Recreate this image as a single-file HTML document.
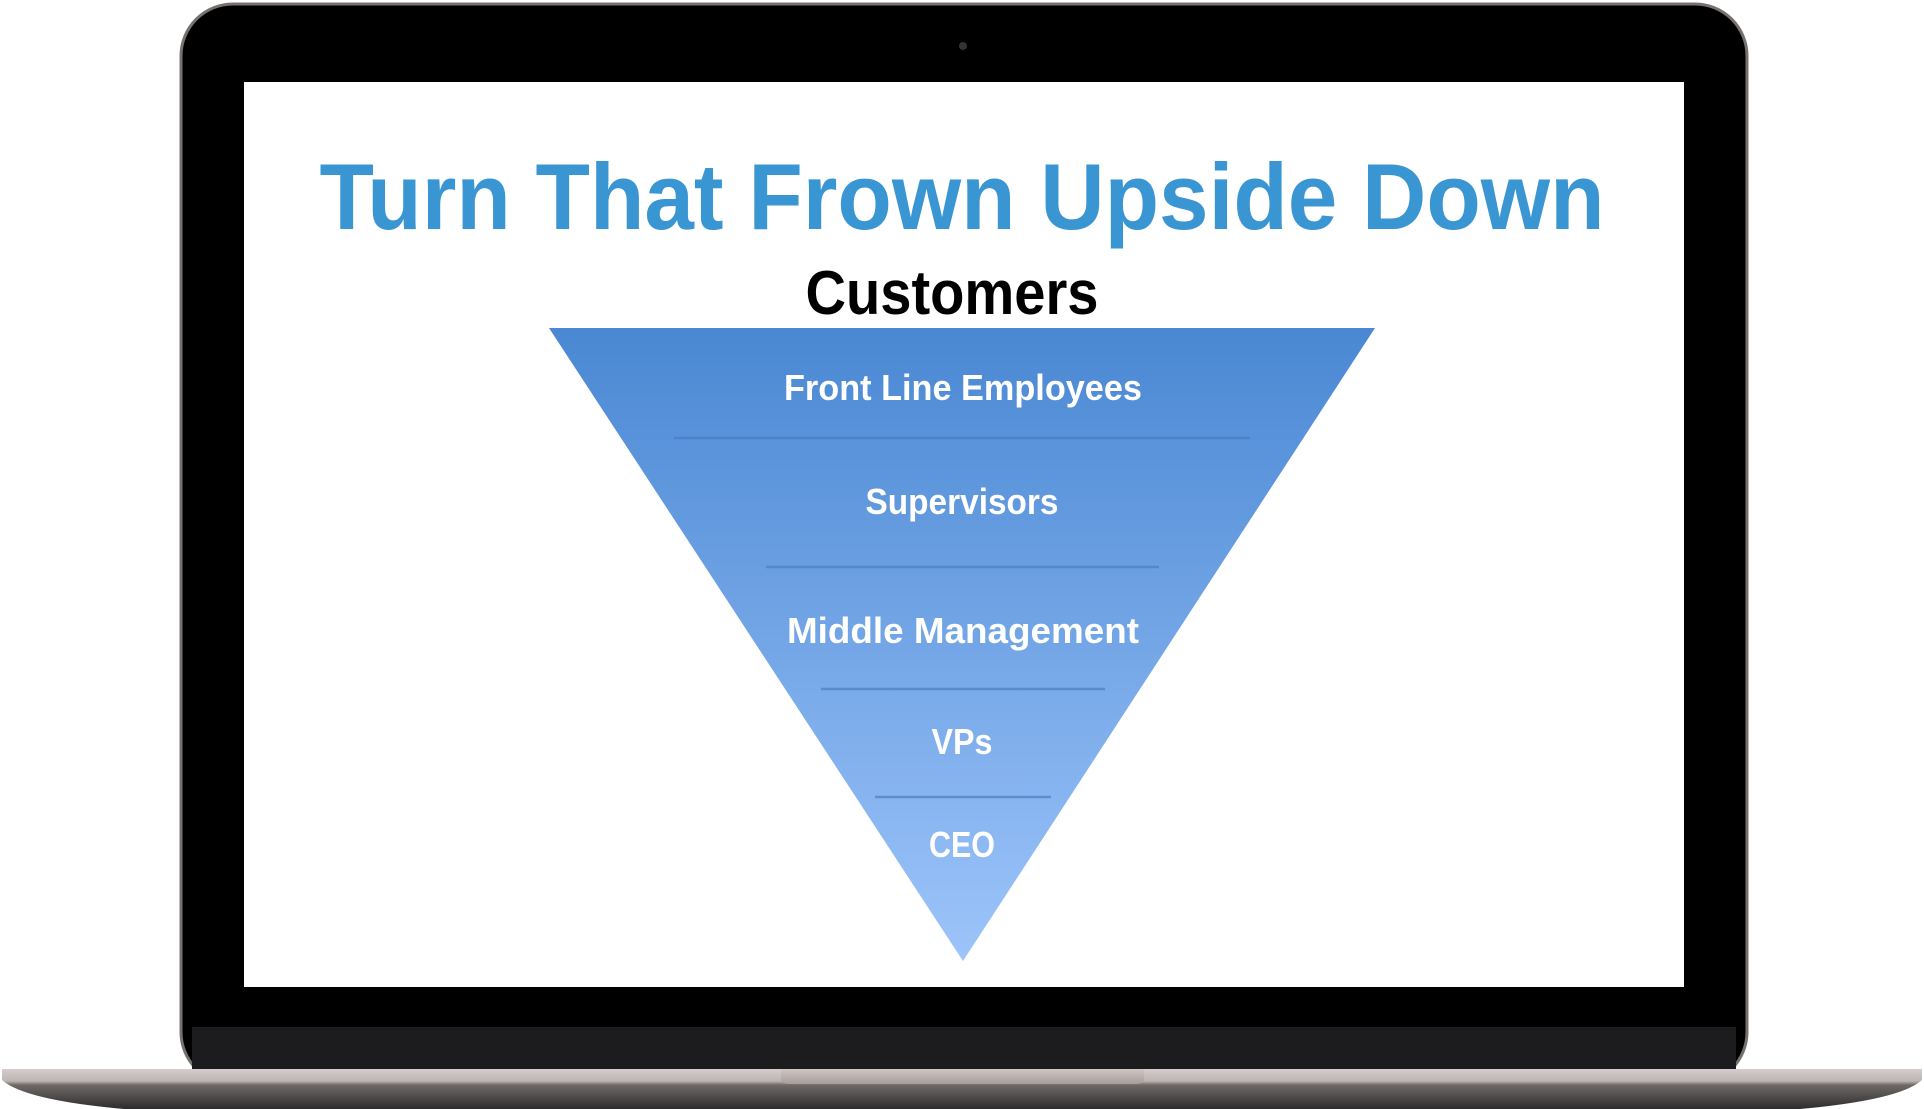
<!DOCTYPE html>
<html><head><meta charset="utf-8"><style>
html,body{margin:0;padding:0;background:#fff;width:1924px;height:1109px;overflow:hidden}
svg{display:block}
</style></head><body>
<svg width="1924" height="1109" viewBox="0 0 1924 1109" xmlns="http://www.w3.org/2000/svg">
<defs>
<linearGradient id="tri" x1="0" y1="0" x2="0" y2="1">
<stop offset="0" stop-color="#4a88d3"/><stop offset="1" stop-color="#9dc4fa"/>
</linearGradient>
<linearGradient id="base" x1="0" y1="0" x2="0" y2="1">
<stop offset="0" stop-color="#d4cdcb"/><stop offset="0.3" stop-color="#bdb5b3"/><stop offset="0.4" stop-color="#6e6967"/><stop offset="1" stop-color="#2e2c2c"/>
</linearGradient>
<linearGradient id="notch" x1="0" y1="0" x2="0" y2="1">
<stop offset="0" stop-color="#cfc6c4"/><stop offset="1" stop-color="#a79e9c"/>
</linearGradient>
</defs>
<!-- lid -->
<rect x="181" y="4" width="1566" height="1080" rx="52" ry="52" fill="#000" stroke="#77716f" stroke-width="3"/>
<rect x="192" y="1027" width="1544" height="42" fill="#1c1b1e"/>
<circle cx="963" cy="46" r="4" fill="#333"/>
<!-- screen -->
<rect x="244" y="82" width="1440" height="905" fill="#fff"/>
<!-- base -->
<path d="M2 1069 L1922 1069 L1922 1080 Q1900 1100 1800 1109 L124 1109 Q24 1100 2 1080 Z" fill="url(#base)"/>
<path d="M781 1069 L1144 1069 L1144 1079 Q1144 1084 1135 1084 L790 1084 Q781 1084 781 1079 Z" fill="url(#notch)"/>
<!-- title -->
<text x="962" y="229" text-anchor="middle" font-family="Liberation Sans, sans-serif" font-weight="bold" font-size="94" fill="#3a95d3" textLength="1285" lengthAdjust="spacingAndGlyphs">Turn That Frown Upside Down</text>
<text x="952" y="314" text-anchor="middle" font-family="Liberation Sans, sans-serif" font-weight="bold" font-size="62" fill="#000" textLength="293" lengthAdjust="spacingAndGlyphs">Customers</text>
<!-- triangle -->
<polygon points="549,328 1375,328 963,961" fill="url(#tri)"/>
<g stroke="#4a7fc0" stroke-width="2.5" opacity="0.7">
<line x1="674" y1="438" x2="1250" y2="438"/>
<line x1="766" y1="567" x2="1159" y2="567"/>
<line x1="821" y1="689" x2="1105" y2="689"/>
<line x1="875" y1="797" x2="1051" y2="797"/>
</g>
<g font-family="Liberation Sans, sans-serif" font-weight="bold" font-size="36" fill="#fff" text-anchor="middle">
<text x="963" y="400" textLength="358" lengthAdjust="spacingAndGlyphs">Front Line Employees</text>
<text x="962" y="514" textLength="193" lengthAdjust="spacingAndGlyphs">Supervisors</text>
<text x="963" y="643" textLength="352" lengthAdjust="spacingAndGlyphs">Middle Management</text>
<text x="962" y="754" textLength="61" lengthAdjust="spacingAndGlyphs">VPs</text>
<text x="962" y="857" textLength="66" lengthAdjust="spacingAndGlyphs">CEO</text>
</g>
</svg>
</body></html>
